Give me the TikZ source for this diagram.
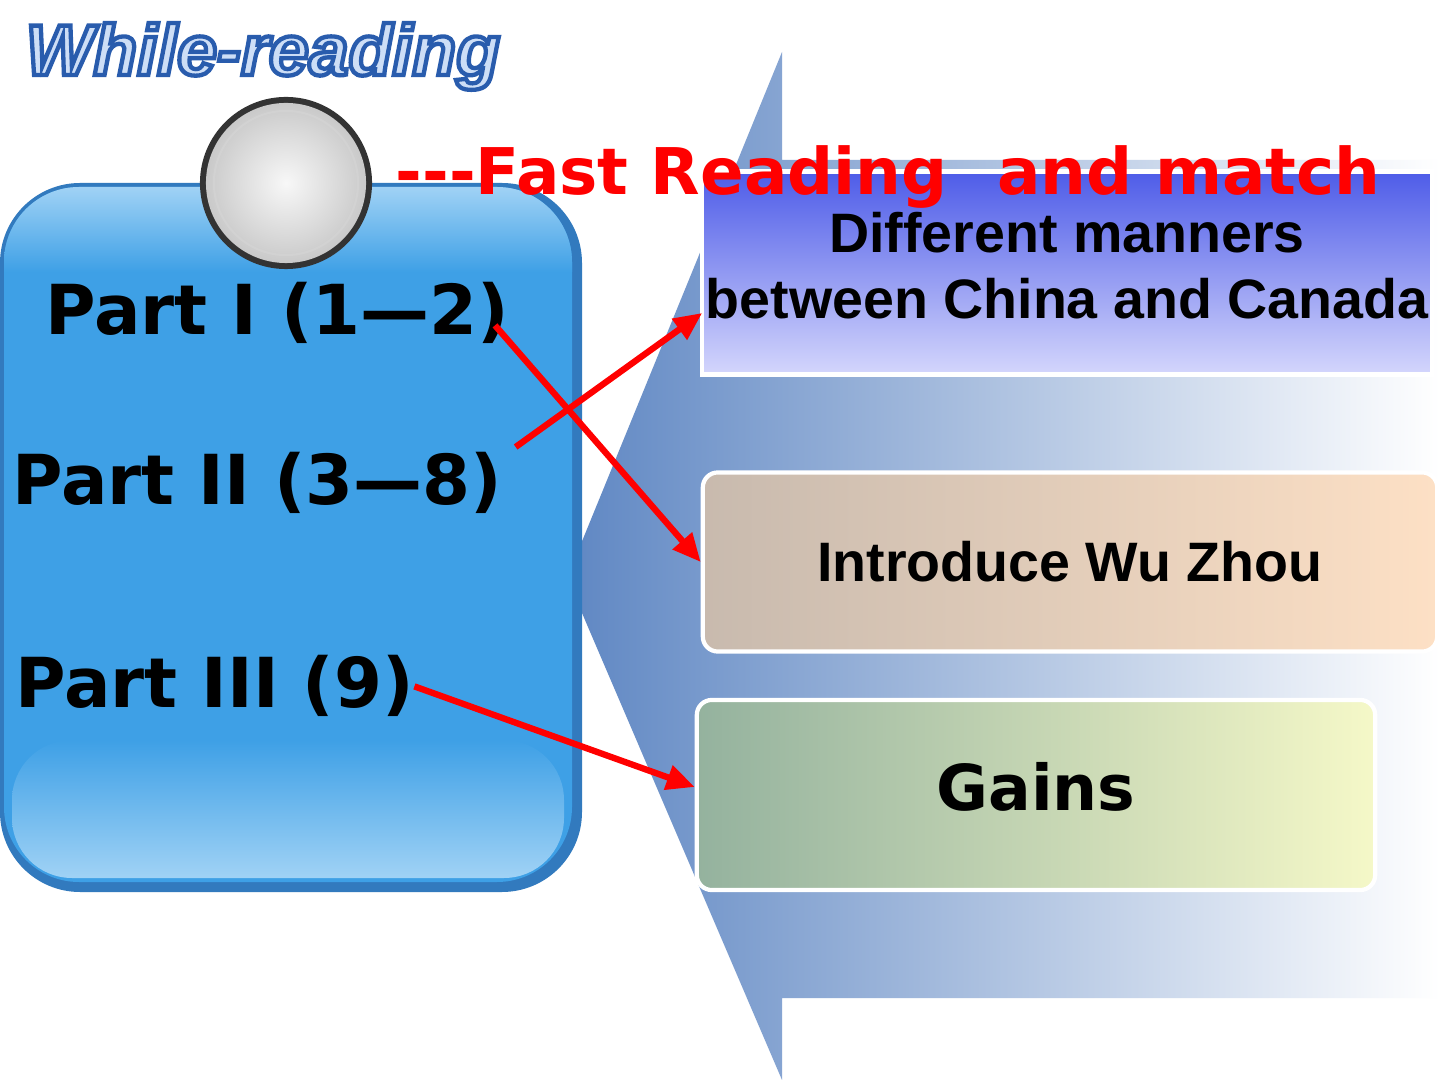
\documentclass[tikz,border=0pt]{standalone}
\usepackage{fontspec}
\setmainfont{Liberation Sans}
\newfontfamily\comicfont{DejaVu Sans}
\newfontfamily\titlefont[UprightFont=* Bold Italic,FakeBold=6]{Liberation Sans}
\usetikzlibrary{arrows.meta}

\definecolor{panelblue}{RGB}{62,160,230}
\definecolor{paneledge}{RGB}{50,122,190}
\definecolor{panellight}{RGB}{160,210,245}
\definecolor{chevblue}{RGB}{95,135,195}
\definecolor{titlefill}{RGB}{205,222,246}
\definecolor{mannertop}{RGB}{78,92,232}
\definecolor{mannerbot}{RGB}{212,214,252}
\definecolor{introleft}{RGB}{200,186,174}
\definecolor{introright}{RGB}{253,224,197}
\definecolor{gainsleft}{RGB}{148,178,158}
\definecolor{gainsright}{RGB}{245,248,200}
% stroke colour for the outlined heading
\newcommand{\outlineblue}{\special{pdf:literal direct 0.16 0.36 0.68 RG}}

\begin{document}
\begin{tikzpicture}[x=0.01cm,y=-0.01cm,
    parttext/.style={anchor=base west,inner sep=0pt,
      font=\comicfont\bfseries\fontsize{19.6pt}{23pt}\selectfont},
    matchbox/.style={draw=white,line width=1.2pt,inner sep=0pt,align=center,
      font=\bfseries\fontsize{15.8pt}{18.8pt}\selectfont},
    redarrow/.style={->,red,line width=1.8pt},
    >={Triangle[length=8pt,width=7pt]}]
  \useasboundingbox (0,0) rectangle (1440,1080);
  \fill[white] (0,0) rectangle (1440,1080);

  % chevron behind the boxes
  \shade[left color=chevblue,right color=white]
    (567,578) -- (782,52) -- (782,160) -- (1440,160) -- (1440,998)
    -- (782,998) -- (782,1080) -- cycle;

  % the three boxes
  \node[matchbox,top color=mannertop,bottom color=mannerbot,
    minimum width=7.29cm,minimum height=2.03cm,text depth=0.16cm]
    (manners) at (1067,273) {Different manners\\between China and Canada};
  \node[matchbox,rounded corners=0.15cm,left color=introleft,right color=introright,
    minimum width=7.34cm,minimum height=1.79cm]
    (intro) at (1070,562) {Introduce Wu Zhou};
  \node[matchbox,rounded corners=0.15cm,left color=gainsleft,right color=gainsright,
    minimum width=6.78cm,minimum height=1.90cm,text depth=0.18cm,
    font=\comicfont\bfseries\fontsize{18pt}{21pt}\selectfont]
    (gains) at (1036,795) {Gains};

  % left panel
  \fill[paneledge,rounded corners=0.8cm] (0,183) rectangle (582,892);
  \fill[panelblue,rounded corners=0.75cm] (4,187) rectangle (572,882);
  \begin{scope}
    \clip[rounded corners=0.75cm] (4,187) rectangle (572,882);
    \shade[top color=panellight,bottom color=panelblue] (0,187) rectangle (580,272);
  \end{scope}
  \shade[top color=panelblue,bottom color=panellight,rounded corners=0.6cm]
    (12,740) rectangle (564,878);

  % knob on top of the panel
  \fill[black!80] (286,183) circle (0.86cm);
  \shade[inner color=gray!6,outer color=gray!42] (286,183) circle (0.80cm);
  \draw[white!65!gray,line width=0.6pt] (286,183) circle (0.72cm);

  % headings
  \node[anchor=base west,inner sep=0pt,text=titlefill,
    font=\titlefont\fontsize{20.4pt}{24pt}\selectfont]
    (title) at (25,75) {\outlineblue While-reading};
  \node[anchor=base west,inner sep=0pt,text=red,
    font=\comicfont\bfseries\fontsize{18.3pt}{22pt}\selectfont]
    (task) at (395,195) {-{}-{}-Fast Reading\hspace{0.5cm}and match};

  % parts
  \node[parttext] (p1) at (45,335) {Part I (1—2)};
  \node[parttext] (p2) at (12,505) {Part II (3—8)};
  \node[parttext] (p3) at (15,708) {Part III (9)};

  % matching arrows
  \draw[redarrow] ([shift={(-15,12)}]p1.east) -- (intro.west);
  \draw[redarrow] ([shift={(13,-5)}]p2.north east) -- ([shift={(2,40)}]manners.west);
  \draw[redarrow] (p3.east) -- ([shift={(0,-8)}]gains.west);
\end{tikzpicture}
\end{document}
